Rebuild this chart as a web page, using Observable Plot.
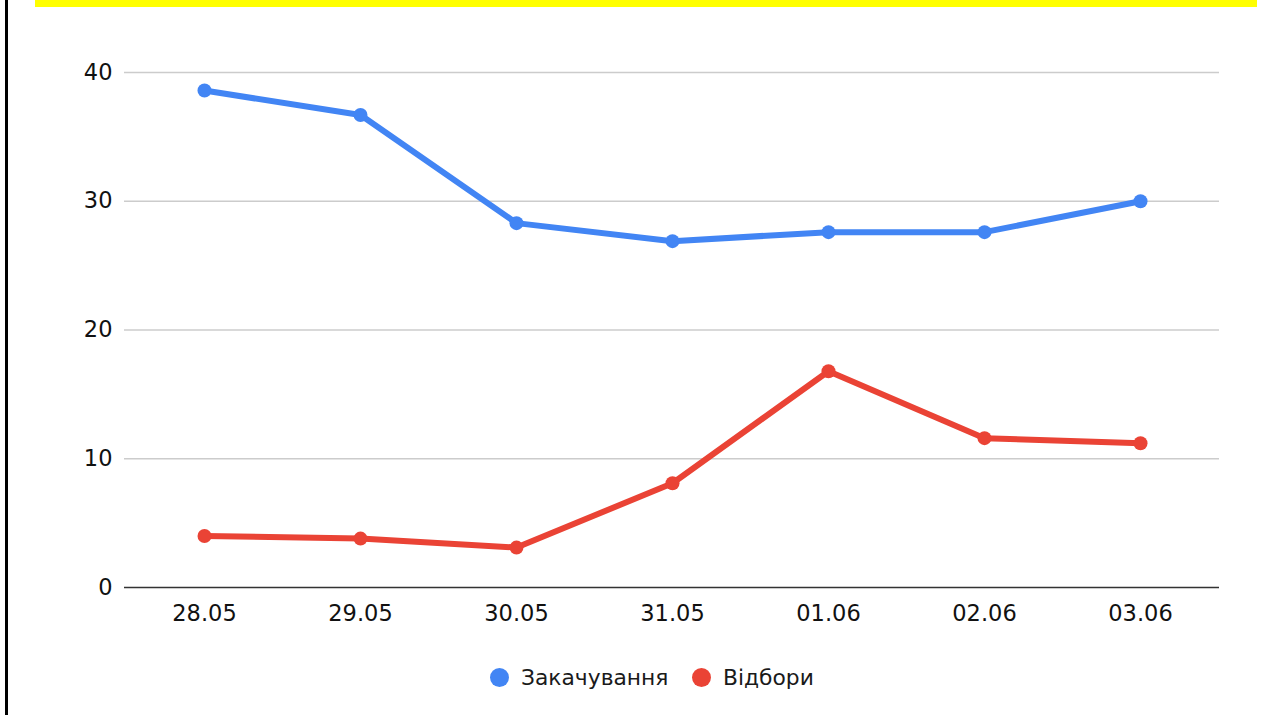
<!DOCTYPE html>
<html>
<head>
<meta charset="utf-8">
<script src="https://cdn.jsdelivr.net/npm/d3@7"></script>
<script src="https://cdn.jsdelivr.net/npm/@observablehq/plot@0.6"></script>
<style>
  html, body { margin: 0; padding: 0; background: #fff; }
  body { width: 1261px; height: 715px; position: relative; overflow: hidden; font-family: "DejaVu Sans", sans-serif; }
  #border { position: absolute; left: 5px; top: 0; width: 3px; height: 715px; background: #000; }
  #band { position: absolute; left: 35px; top: 0; width: 1222px; height: 7px; background: #ffff00; }
  #chart { position: absolute; left: 0; top: 0; }
  #legend { position: absolute; left: 0; top: 664px; width: 1261px; height: 26px; }
  .item { position: absolute; top: 0; display: flex; align-items: center; height: 26px; font-size: 21.8px; color: #1a1a1a; }
  .dot { width: 19px; height: 19px; border-radius: 50%; margin-right: 12px; }
</style>
</head>
<body>
<div id="border"></div>
<div id="band"></div>
<div id="chart"></div>
<div id="legend"></div>
<script>
const dates = ["28.05", "29.05", "30.05", "31.05", "01.06", "02.06", "03.06"];
const zakachuvannia = [38.6, 36.7, 28.3, 26.9, 27.6, 27.6, 30.0];
const vidbory = [4.0, 3.8, 3.1, 8.1, 16.8, 11.6, 11.2];
const yTicks = [0, 10, 20, 30, 40];
const seriesNames = ["Закачування", "Відбори"];
const seriesColors = ["#4285F4", "#EA4335"];

const rows = [];
dates.forEach((d, i) => rows.push({date: d, value: zakachuvannia[i], series: seriesNames[0]}));
dates.forEach((d, i) => rows.push({date: d, value: vidbory[i], series: seriesNames[1]}));

const chart = Plot.plot({
  width: 1261,
  height: 645,
  marginLeft: 124,
  marginRight: 42,
  marginTop: 72,
  marginBottom: 58,
  style: {fontFamily: "DejaVu Sans, sans-serif", fontSize: "22.5px", color: "#111", background: "transparent"},
  x: {type: "point", domain: dates, padding: 0.5, label: null},
  y: {domain: [0, 40], ticks: yTicks, label: null},
  color: {domain: seriesNames, range: seriesColors},
  marks: [
    Plot.gridY(yTicks.filter(t => t !== 0), {stroke: "#cccccc", strokeOpacity: 1, strokeWidth: 1.3}),
    Plot.ruleY([0], {stroke: "#333", strokeWidth: 1.3}),
    Plot.axisY({ticks: yTicks, tickSize: 0, tickPadding: 12, label: null, fill: "#111", fontSize: 22.5}),
    Plot.axisX({tickSize: 0, tickPadding: 18, label: null, fill: "#111", fontSize: 22.5}),
    Plot.line(rows, {x: "date", y: "value", z: "series", stroke: "series", strokeWidth: 6, curve: "linear"}),
    Plot.dot(rows, {x: "date", y: "value", fill: "series", r: 7})
  ]
});
document.getElementById("chart").appendChild(chart);

const legend = document.getElementById("legend");
const lefts = [490, 692];
seriesNames.forEach((name, i) => {
  const item = document.createElement("div");
  item.className = "item";
  item.style.left = lefts[i] + "px";
  const dot = document.createElement("span");
  dot.className = "dot";
  dot.style.background = seriesColors[i];
  const label = document.createElement("span");
  label.textContent = name;
  item.appendChild(dot);
  item.appendChild(label);
  legend.appendChild(item);
});
</script>
</body>
</html>
